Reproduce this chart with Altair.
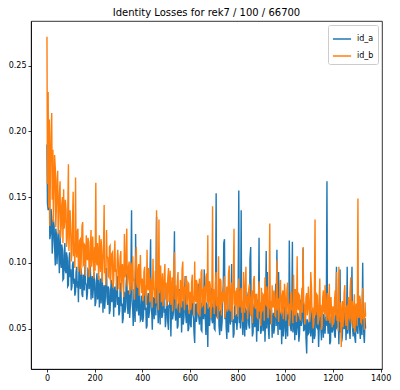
import altair as alt
import pandas as pd

# training steps at which the losses are shown
steps = sorted(list(range(0, 1340, 5)) + list(range(2, 1340, 5)))

id_a = [
    0.190, 0.145, 0.140, 0.162, 0.156, 0.118, 0.122, 0.141, 0.135, 0.107, 0.118, 0.133, 0.128, 0.112, 0.098, 0.126, 0.121, 0.099, 0.112, 0.123,
    0.105, 0.092, 0.125, 0.103, 0.096, 0.114, 0.110, 0.087, 0.088, 0.106, 0.115, 0.094, 0.092, 0.108, 0.104, 0.082, 0.083, 0.101, 0.108, 0.089,
    0.095, 0.079, 0.082, 0.098, 0.101, 0.084, 0.088, 0.075, 0.078, 0.093, 0.097, 0.081, 0.086, 0.070, 0.104, 0.087, 0.080, 0.096, 0.092, 0.076,
    0.074, 0.091, 0.089, 0.079, 0.099, 0.085, 0.083, 0.072, 0.077, 0.095, 0.094, 0.080, 0.085, 0.098, 0.072, 0.084, 0.090, 0.073, 0.081, 0.093,
    0.084, 0.067, 0.070, 0.086, 0.092, 0.072, 0.076, 0.090, 0.066, 0.079, 0.088, 0.069, 0.079, 0.093, 0.062, 0.077, 0.083, 0.065, 0.073, 0.089,
    0.096, 0.074, 0.068, 0.082, 0.080, 0.061, 0.064, 0.078, 0.087, 0.070, 0.075, 0.085, 0.059, 0.076, 0.082, 0.066, 0.071, 0.084, 0.090, 0.068,
    0.074, 0.060, 0.063, 0.081, 0.085, 0.067, 0.069, 0.054, 0.058, 0.076, 0.078, 0.062, 0.066, 0.083, 0.092, 0.070, 0.061, 0.079, 0.075, 0.058,
    0.068, 0.086, 0.140, 0.071, 0.064, 0.052, 0.080, 0.067, 0.055, 0.122, 0.072, 0.063, 0.088, 0.071, 0.060, 0.082, 0.070, 0.056, 0.057, 0.075,
    0.071, 0.055, 0.059, 0.078, 0.082, 0.064, 0.066, 0.050, 0.052, 0.073, 0.077, 0.058, 0.063, 0.091, 0.118, 0.066, 0.061, 0.049, 0.074, 0.069,
    0.057, 0.080, 0.069, 0.060, 0.135, 0.071, 0.064, 0.054, 0.079, 0.066, 0.053, 0.084, 0.072, 0.058, 0.060, 0.075, 0.086, 0.062, 0.065, 0.051,
    0.058, 0.073, 0.070, 0.055, 0.049, 0.068, 0.066, 0.079, 0.044, 0.061, 0.075, 0.057, 0.061, 0.083, 0.124, 0.064, 0.056, 0.072, 0.068, 0.050,
    0.052, 0.066, 0.080, 0.058, 0.063, 0.076, 0.047, 0.060, 0.071, 0.053, 0.059, 0.074, 0.090, 0.061, 0.054, 0.069, 0.067, 0.048, 0.050, 0.064,
    0.065, 0.053, 0.051, 0.072, 0.078, 0.061, 0.058, 0.047, 0.039, 0.064, 0.069, 0.055, 0.060, 0.077, 0.084, 0.059, 0.053, 0.068, 0.072, 0.049,
    0.048, 0.070, 0.063, 0.057, 0.095, 0.062, 0.056, 0.045, 0.070, 0.060, 0.036, 0.067, 0.066, 0.052, 0.059, 0.074, 0.081, 0.057, 0.054, 0.069,
    0.062, 0.050, 0.049, 0.067, 0.153, 0.060, 0.058, 0.073, 0.070, 0.052, 0.045, 0.063, 0.064, 0.048, 0.055, 0.071, 0.085, 0.115, 0.118, 0.057,
    0.067, 0.051, 0.042, 0.065, 0.060, 0.047, 0.074, 0.058, 0.053, 0.069, 0.099, 0.055, 0.057, 0.043, 0.046, 0.066, 0.068, 0.054, 0.061, 0.049,
    0.058, 0.068, 0.155, 0.054, 0.066, 0.050, 0.140, 0.062, 0.052, 0.045, 0.071, 0.058, 0.044, 0.066, 0.063, 0.049, 0.056, 0.073, 0.078, 0.053,
    0.050, 0.103, 0.112, 0.061, 0.059, 0.044, 0.047, 0.064, 0.069, 0.051, 0.054, 0.067, 0.040, 0.056, 0.072, 0.048, 0.119, 0.060, 0.057, 0.046,
    0.049, 0.061, 0.065, 0.048, 0.053, 0.067, 0.040, 0.057, 0.109, 0.050, 0.093, 0.059, 0.047, 0.042, 0.071, 0.054, 0.055, 0.064, 0.043, 0.058,
    0.062, 0.046, 0.051, 0.069, 0.084, 0.052, 0.110, 0.060, 0.045, 0.093, 0.066, 0.049, 0.052, 0.063, 0.038, 0.055, 0.063, 0.044, 0.056, 0.067,
    0.050, 0.042, 0.061, 0.055, 0.044, 0.063, 0.057, 0.117, 0.068, 0.051, 0.048, 0.059, 0.116, 0.047, 0.053, 0.066, 0.041, 0.056, 0.064, 0.045,
    0.051, 0.062, 0.058, 0.040, 0.046, 0.060, 0.072, 0.052, 0.055, 0.065, 0.111, 0.048, 0.049, 0.058, 0.060, 0.043, 0.031, 0.057, 0.054, 0.046,
    0.047, 0.059, 0.062, 0.044, 0.052, 0.064, 0.039, 0.055, 0.058, 0.042, 0.045, 0.068, 0.070, 0.051, 0.050, 0.060, 0.036, 0.048, 0.056, 0.063,
    0.048, 0.041, 0.066, 0.054, 0.043, 0.061, 0.053, 0.046, 0.059, 0.052, 0.162, 0.057, 0.046, 0.064, 0.055, 0.038, 0.040, 0.058, 0.061, 0.047,
    0.049, 0.062, 0.057, 0.045, 0.043, 0.058, 0.097, 0.051, 0.052, 0.064, 0.038, 0.055, 0.095, 0.047, 0.054, 0.040, 0.045, 0.061, 0.063, 0.050,
    0.050, 0.066, 0.041, 0.053, 0.097, 0.046, 0.056, 0.060, 0.047, 0.042, 0.059, 0.068, 0.097, 0.052, 0.044, 0.057, 0.053, 0.043, 0.039, 0.062,
    0.055, 0.048, 0.046, 0.064, 0.061, 0.051, 0.042, 0.057, 0.052, 0.045, 0.100, 0.060, 0.044, 0.039, 0.058, 0.050,
]

id_b = [
    0.272, 0.160, 0.230, 0.142, 0.209, 0.128, 0.175, 0.196, 0.214, 0.148, 0.186, 0.131, 0.158, 0.182, 0.172, 0.127, 0.145, 0.163, 0.170, 0.122,
    0.138, 0.152, 0.162, 0.119, 0.128, 0.144, 0.150, 0.115, 0.156, 0.126, 0.132, 0.148, 0.141, 0.112, 0.118, 0.136, 0.175, 0.109, 0.127, 0.140,
    0.122, 0.101, 0.108, 0.130, 0.154, 0.105, 0.115, 0.096, 0.165, 0.112, 0.104, 0.124, 0.126, 0.093, 0.097, 0.117, 0.118, 0.091, 0.110, 0.128,
    0.131, 0.098, 0.099, 0.114, 0.113, 0.090, 0.121, 0.106, 0.102, 0.119, 0.116, 0.089, 0.094, 0.111, 0.125, 0.097, 0.107, 0.120, 0.100, 0.088,
    0.112, 0.094, 0.161, 0.102, 0.098, 0.115, 0.106, 0.087, 0.121, 0.100, 0.093, 0.118, 0.110, 0.085, 0.101, 0.109, 0.144, 0.092, 0.096, 0.083,
    0.125, 0.105, 0.104, 0.090, 0.089, 0.112, 0.113, 0.084, 0.099, 0.107, 0.108, 0.081, 0.086, 0.101, 0.117, 0.093, 0.095, 0.079, 0.103, 0.110,
    0.098, 0.080, 0.087, 0.104, 0.109, 0.078, 0.093, 0.099, 0.084, 0.074, 0.122, 0.089, 0.091, 0.107, 0.126, 0.082, 0.088, 0.097, 0.101, 0.076,
    0.083, 0.100, 0.096, 0.079, 0.105, 0.088, 0.086, 0.072, 0.094, 0.103, 0.112, 0.084, 0.081, 0.095, 0.099, 0.075, 0.090, 0.106, 0.085, 0.077,
    0.088, 0.071, 0.076, 0.093, 0.097, 0.075, 0.083, 0.068, 0.110, 0.082, 0.079, 0.096, 0.091, 0.070, 0.072, 0.087, 0.086, 0.066, 0.103, 0.080,
    0.080, 0.073, 0.094, 0.069, 0.140, 0.085, 0.078, 0.064, 0.133, 0.077, 0.084, 0.098, 0.070, 0.081, 0.092, 0.067, 0.081, 0.089, 0.099, 0.072,
    0.085, 0.067, 0.074, 0.088, 0.096, 0.070, 0.080, 0.094, 0.068, 0.076, 0.089, 0.063, 0.077, 0.099, 0.108, 0.072, 0.083, 0.065, 0.071, 0.086,
    0.093, 0.069, 0.079, 0.062, 0.087, 0.078, 0.066, 0.095, 0.101, 0.071, 0.082, 0.064, 0.075, 0.088, 0.090, 0.068, 0.073, 0.085, 0.084, 0.061,
    0.078, 0.064, 0.066, 0.085, 0.091, 0.069, 0.075, 0.060, 0.101, 0.074, 0.070, 0.087, 0.084, 0.063, 0.062, 0.079, 0.088, 0.059, 0.073, 0.093,
    0.095, 0.067, 0.068, 0.080, 0.081, 0.061, 0.076, 0.089, 0.092, 0.070, 0.121, 0.065, 0.071, 0.086, 0.083, 0.058, 0.067, 0.078, 0.143, 0.066,
    0.080, 0.061, 0.069, 0.084, 0.093, 0.067, 0.074, 0.057, 0.105, 0.072, 0.064, 0.088, 0.086, 0.060, 0.078, 0.070, 0.071, 0.083, 0.090, 0.058,
    0.066, 0.077, 0.082, 0.063, 0.075, 0.092, 0.098, 0.065, 0.063, 0.079, 0.085, 0.056, 0.072, 0.087, 0.126, 0.068, 0.079, 0.060, 0.070, 0.081,
    0.077, 0.059, 0.088, 0.070, 0.066, 0.078, 0.081, 0.062, 0.071, 0.055, 0.093, 0.074, 0.062, 0.083, 0.097, 0.066, 0.075, 0.057, 0.068, 0.080,
    0.084, 0.064, 0.060, 0.073, 0.079, 0.054, 0.072, 0.087, 0.090, 0.067, 0.065, 0.076, 0.076, 0.059, 0.058, 0.071, 0.086, 0.063, 0.070, 0.052,
    0.081, 0.063, 0.064, 0.076, 0.075, 0.056, 0.089, 0.069, 0.068, 0.082, 0.078, 0.058, 0.061, 0.072, 0.130, 0.065, 0.071, 0.053, 0.083, 0.068,
    0.066, 0.079, 0.076, 0.060, 0.059, 0.074, 0.102, 0.064, 0.073, 0.055, 0.067, 0.081, 0.087, 0.062, 0.062, 0.075, 0.079, 0.057, 0.070, 0.084,
    0.074, 0.056, 0.063, 0.079, 0.085, 0.061, 0.069, 0.052, 0.058, 0.073, 0.078, 0.064, 0.066, 0.054, 0.091, 0.070, 0.060, 0.080, 0.072, 0.055,
    0.105, 0.067, 0.064, 0.076, 0.075, 0.058, 0.057, 0.069, 0.081, 0.062, 0.112, 0.071, 0.068, 0.053, 0.061, 0.074, 0.077, 0.060, 0.065, 0.082,
    0.070, 0.055, 0.059, 0.093, 0.082, 0.062, 0.066, 0.050, 0.054, 0.071, 0.133, 0.060, 0.063, 0.076, 0.075, 0.053, 0.057, 0.069, 0.088, 0.059,
    0.068, 0.049, 0.052, 0.073, 0.079, 0.063, 0.061, 0.083, 0.072, 0.056, 0.065, 0.077, 0.056, 0.066, 0.084, 0.054, 0.069, 0.074, 0.060, 0.051,
    0.067, 0.053, 0.058, 0.072, 0.079, 0.060, 0.093, 0.056, 0.062, 0.048, 0.097, 0.066, 0.055, 0.070, 0.036, 0.059, 0.071, 0.051, 0.060, 0.077,
    0.083, 0.057, 0.052, 0.065, 0.068, 0.049, 0.074, 0.062, 0.057, 0.078, 0.089, 0.054, 0.063, 0.071, 0.050, 0.058, 0.076, 0.047, 0.061, 0.069,
    0.065, 0.052, 0.149, 0.060, 0.058, 0.075, 0.072, 0.055, 0.054, 0.068, 0.081, 0.057, 0.062, 0.049, 0.070, 0.059,
]

series_names = ["id_a", "id_b"]
series_colors = ["#1f77b4", "#ff7f0e"]
x_ticks = [0, 200, 400, 600, 800, 1000, 1200, 1400]
y_ticks = [0.05, 0.10, 0.15, 0.20, 0.25]
title_text = "Identity Losses for rek7 / 100 / 66700"

na = min(len(steps), len(id_a))
nb = min(len(steps), len(id_b))
df = pd.DataFrame({
    "step": steps[:na] + steps[:nb],
    "loss": id_a[:na] + id_b[:nb],
    "series": [series_names[0]] * na + [series_names[1]] * nb,
})

FONT = "DejaVu Sans"

chart = alt.Chart(df).mark_line(strokeWidth=1.4, clip=True).encode(
    x=alt.X("step:Q",
            scale=alt.Scale(domain=[-67, 1406], nice=False, zero=False),
            axis=alt.Axis(values=x_ticks, format="d", title=None, grid=False)),
    y=alt.Y("loss:Q",
            scale=alt.Scale(domain=[0.0192, 0.284], nice=False, zero=False),
            axis=alt.Axis(values=y_ticks, format=".2f", title=None, grid=False)),
    color=alt.Color("series:N",
                    scale=alt.Scale(domain=series_names, range=series_colors),
                    legend=alt.Legend(title=None, orient="top-right", offset=4,
                                      symbolType="stroke", symbolStrokeWidth=1.5,
                                      symbolSize=330, labelFontSize=8, labelFont=FONT,
                                      labelColor="black", padding=4, rowPadding=3,
                                      strokeColor="#cccccc", fillColor="white",
                                      cornerRadius=2, labelOffset=5)),
).properties(
    width=384,
    height=374,
    autosize=alt.AutoSizeParams(type="fit", contains="padding"),
    padding={"left": 0, "right": 1, "top": 0, "bottom": 0},
    title=alt.Title(title_text, fontSize=10, fontWeight="normal", font=FONT,
                    color="black", offset=3, anchor="middle", frame="group"),
).configure_view(
    stroke="black", strokeWidth=0.8
).configure_axis(
    domainColor="black", domainWidth=0.8, tickColor="black", tickWidth=0.8,
    tickSize=3, labelPadding=2, labelColor="black", labelFont=FONT, labelFontSize=8,
)

chart.save("out.html", embed_options={"renderer": "svg", "actions": False})
